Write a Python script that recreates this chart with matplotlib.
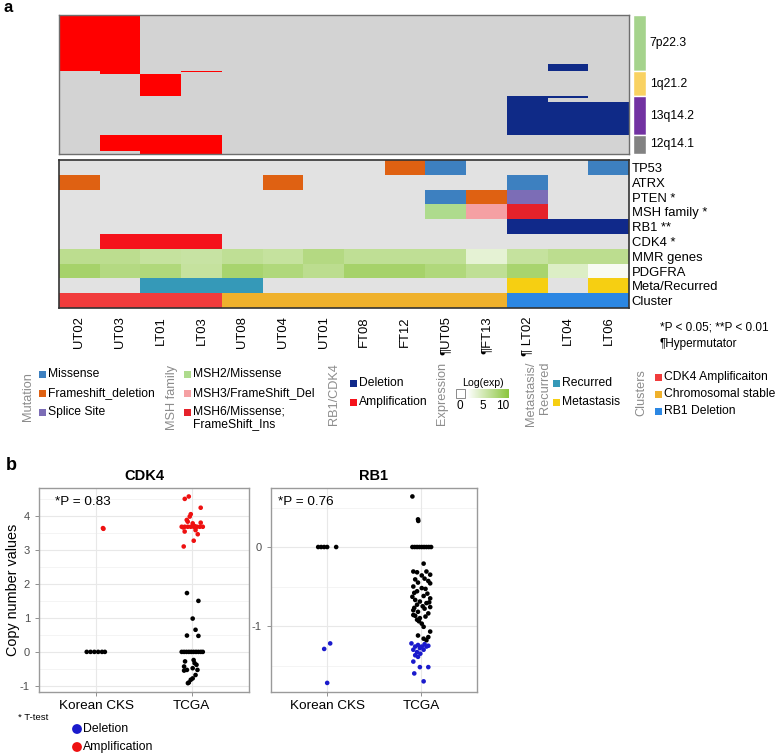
import numpy as np
import matplotlib
matplotlib.use('Agg')
import matplotlib.pyplot as plt
from matplotlib.colors import ListedColormap, LinearSegmentedColormap, to_rgb
from matplotlib.patches import Rectangle

plt.rcParams['font.family'] = ['Liberation Sans', 'DejaVu Sans']
plt.rcParams['axes.unicode_minus'] = False

# ---- data: panel a ----
samples = ['UT02', 'UT03', 'LT01', 'LT03', 'UT08', 'UT04', 'UT01',
           'FT08', 'FT12', 'UT05', 'FT13', 'LT02', 'LT04', 'LT06']
hypermutator = ['UT05', 'FT13', 'LT02']

bands = ['7p22.3', '1q21.2', '13q14.2', '12q14.1']
band_bins = [56, 25, 39, 19]          # genomic bins per band (top -> bottom)
band_colors = ['#a5d38c', '#f9d262', '#7232a2', '#828282']

# copy number segments: (sample, start bin, end bin, state)
cn_segments = [
    ('UT02', 0, 56, 'amp'), ('UT03', 0, 59, 'amp'), ('LT01', 59, 81, 'amp'),
    ('LT03', 56, 57, 'amp'), ('UT03', 120, 136, 'amp'), ('LT01', 120, 139, 'amp'),
    ('LT03', 120, 139, 'amp'), ('LT04', 49, 56, 'del'), ('LT02', 81, 120, 'del'),
    ('LT04', 81, 83, 'del'), ('LT04', 87, 120, 'del'), ('LT06', 87, 120, 'del'),
]

row_labels = ['TP53', 'ATRX', 'PTEN *', 'MSH family *', 'RB1 **', 'CDK4 *',
              'MMR genes', 'PDGFRA', 'Meta/Recurred', 'Cluster']
tp53 = {'FT12': 'Frameshift_deletion', 'UT05': 'Missense', 'LT06': 'Missense'}
atrx = {'UT02': 'Frameshift_deletion', 'UT04': 'Frameshift_deletion', 'LT02': 'Missense'}
pten = {'UT05': 'Missense', 'FT13': 'Frameshift_deletion', 'LT02': 'Splice Site'}
msh = {'UT05': 'MSH2/Missense', 'FT13': 'MSH3/FrameShift_Del',
       'LT02': 'MSH6/Missense;\nFrameShift_Ins'}
rb1 = {'LT02': 'Deletion', 'LT04': 'Deletion', 'LT06': 'Deletion'}
cdk4 = {'UT03': 'Amplification', 'LT01': 'Amplification', 'LT03': 'Amplification'}
mmr_exp = [5.8, 5.8, 5.0, 4.8, 5.5, 5.0, 6.5, 5.5, 5.5, 5.5, 2.2, 5.0, 5.8, 5.8]
pdgfra_exp = [7.7, 6.5, 6.8, 5.0, 7.5, 6.8, 5.8, 7.7, 7.7, 6.8, 5.5, 7.5, 3.0, 0.6]
meta = {'LT01': 'Recurred', 'LT03': 'Recurred', 'UT08': 'Recurred',
        'LT02': 'Metastasis', 'LT06': 'Metastasis'}
cluster = ['CDK4 Amplificaiton'] * 4 + ['Chromosomal stable'] * 7 + ['RB1 Deletion'] * 3

mutation_legend = ['Missense', 'Frameshift_deletion', 'Splice Site']
msh_legend = ['MSH2/Missense', 'MSH3/FrameShift_Del', 'MSH6/Missense;\nFrameShift_Ins']
rb1cdk4_legend = ['Deletion', 'Amplification']
meta_legend = ['Recurred', 'Metastasis']
cluster_legend = ['CDK4 Amplificaiton', 'Chromosomal stable', 'RB1 Deletion']

colors = {
    'Missense': '#3d80c0', 'Frameshift_deletion': '#df6112', 'Splice Site': '#7c6db6',
    'MSH2/Missense': '#aedb8d', 'MSH3/FrameShift_Del': '#f5a0a3',
    'MSH6/Missense;\nFrameShift_Ins': '#e5222a',
    'Deletion': '#10298a', 'Amplification': '#f5121b',
    'Recurred': '#3599b8', 'Metastasis': '#f6cf12',
    'CDK4 Amplificaiton': '#f13c3c', 'Chromosomal stable': '#efb12c', 'RB1 Deletion': '#2b87e3',
}
bg_gray = '#e2e2e2'
exp_cmap = LinearSegmentedColormap.from_list('exp', ['#ffffff', '#8cc63f'])

# ---- data: panel b ----
cdk4_kor_val = [0, 0, 0, 0, 0, 0, 3.64, 3.62]
cdk4_kor_off = [-0.10, -0.06, -0.02, 0.02, 0.06, 0.09, 0.07, 0.075]
cdk4_tcga_val = [4.50, 4.57, 4.24, 4.05, 3.98, 3.88, 3.83, 3.78, 3.80,
                 3.68, 3.68, 3.68, 3.68, 3.68, 3.68, 3.68, 3.68, 3.66, 3.70,
                 3.54, 3.58, 3.46, 3.27, 3.10,
                 1.73, 1.50, 0.98, 0.65, 0.48, 0.47,
                 0, 0, 0, 0, 0, 0, 0, 0, 0, 0,
                 -0.28, -0.24, -0.33, -0.43, -0.38, -0.53, -0.48, -0.53, -0.55,
                 -0.68, -0.78, -0.82, -0.90, -0.92]
cdk4_tcga_off = [-0.073, -0.031, 0.094, -0.010, -0.021, -0.052, -0.042, 0.010, 0.094,
                 -0.105, -0.074, -0.042, -0.011, 0.021, 0.053, 0.084, 0.116, -0.09, 0.03,
                 -0.074, 0.04, 0.063, 0.021, -0.084,
                 -0.05, 0.07, 0.01, 0.04, -0.05, 0.07,
                 -0.105, -0.08, -0.055, -0.03, -0.005, 0.02, 0.045, 0.07, 0.095, 0.116,
                 -0.07, 0.02, 0.03, -0.08, 0.05, -0.05, 0.01, 0.06, -0.08,
                 0.04, 0.01, -0.01, -0.03, -0.04]
rb1_kor_val = [0, 0, 0, 0, 0, -1.29, -1.22, -1.72]
rb1_kor_off = [-0.096, -0.064, -0.032, 0.0, 0.096, -0.032, 0.032, 0.0]
rb1_tcga_val = [0.64, 0.33, 0.35,
                0, 0, 0, 0, 0, 0, 0, 0, 0,
                -0.21, -0.31, -0.32, -0.31, -0.35, -0.36, -0.41, -0.40, -0.43, -0.45,
                -0.50, -0.52, -0.53, -0.56, -0.59, -0.63, -0.62, -0.65, -0.67, -0.69,
                -0.71, -0.73, -0.75, -0.76, -0.78, -0.80, -0.82, -0.84, -0.86, -0.87,
                -0.90, -0.92, -0.94, -0.97, -1.01, -1.07, -1.12, -1.14, -1.16, -1.18,
                -0.46, -0.58, -0.70, -0.88, -0.77,
                -1.22, -1.26, -1.24, -1.26, -1.23, -1.25, -1.30, -1.33, -1.28, -1.30,
                -1.26, -1.37, -1.35, -1.39, -1.45, -1.52, -1.60, -1.52, -1.70]
rb1_tcga_off = [-0.09, -0.027, -0.03,
                -0.09, -0.065, -0.04, -0.015, 0.01, 0.035, 0.06, 0.085, 0.11,
                0.03, -0.08, -0.04, 0.06, 0.10, 0.01, -0.06, 0.04, 0.08, -0.03,
                -0.08, 0.01, 0.05, -0.04, 0.07, -0.09, 0.03, 0.10, -0.06, -0.01,
                0.06, -0.04, 0.02, 0.10, 0.04, -0.08, -0.03, 0.08, -0.08, -0.06,
                -0.01, -0.04, -0.02, 0.01, 0.03, 0.10, -0.03, 0.08, 0.03, 0.06,
                0.10, -0.07, 0.09, 0.05, -0.07,
                -0.10, -0.06, -0.03, 0.01, 0.04, 0.08, -0.08, -0.04, -0.01, 0.03,
                0.06, -0.06, -0.005, -0.03, -0.08, -0.01, -0.07, 0.08, 0.03]
groups = ['Korean CKS', 'TCGA']

W, H = 778, 755
fig = plt.figure(figsize=(W / 100, H / 100), dpi=100)


def add_ax(x0, y0, x1, y1):
    # axes placed by pixel box (top-left origin)
    return fig.add_axes([x0 / W, 1 - y1 / H, (x1 - x0) / W, (y1 - y0) / H])


# ---- copy number heatmap ----
n_bins = sum(band_bins)
cn = np.zeros((n_bins, len(samples)))
for s, a, b, state in cn_segments:
    cn[a:b, samples.index(s)] = 1 if state == 'amp' else 2
ax_cn = add_ax(59, 15, 629, 154)
ax_cn.imshow(cn, cmap=ListedColormap(['#d3d3d3', '#ff0000', '#0f2a87']), vmin=0, vmax=2,
             aspect='auto', interpolation='nearest', extent=(-0.5, len(samples) - 0.5, n_bins, 0))
ax_cn.set_xticks([])
ax_cn.set_yticks([])
for sp in ax_cn.spines.values():
    sp.set_color('#6e6e6e')
    sp.set_linewidth(1)

ax_band = add_ax(633, 15, 646, 154)
starts = np.cumsum([0] + band_bins[:-1])
ax_band.bar(0, band_bins, bottom=starts, color=band_colors, width=1,
            edgecolor='white', linewidth=1)
ax_band.set_xlim(-0.5, 0.5)
ax_band.set_ylim(n_bins, 0)
ax_band.axis('off')
for name, st, n in zip(bands, starts, band_bins):
    ax_band.text(0.8, st + n / 2, name, ha='left', va='center', fontsize=8.7, clip_on=False)

# ---- mutation / annotation panel ----
cat_rows = [tp53, atrx, pten, msh, rb1, cdk4]
rgb = np.zeros((len(row_labels), len(samples), 3))
for i, s in enumerate(samples):
    for r, calls in enumerate(cat_rows):
        rgb[r, i] = to_rgb(colors[calls[s]]) if s in calls else to_rgb(bg_gray)
    rgb[6, i] = exp_cmap(mmr_exp[i] / 10)[:3]
    rgb[7, i] = exp_cmap(pdgfra_exp[i] / 10)[:3]
    rgb[8, i] = to_rgb(colors[meta[s]]) if s in meta else to_rgb(bg_gray)
    rgb[9, i] = to_rgb(colors[cluster[i]])

ax_mut = add_ax(59, 160, 629, 308)
ax_mut.imshow(rgb, aspect='auto', interpolation='nearest')
ax_mut.set_xticks(range(len(samples)))
ax_mut.set_xticklabels([('¶' + s if s != 'LT02' else '¶ ' + s) if s in hypermutator else s
                        for s in samples], rotation=90, fontsize=9.4)
ax_mut.yaxis.tick_right()
ax_mut.set_yticks(range(len(row_labels)))
ax_mut.set_yticklabels(row_labels, fontsize=9.4)
ax_mut.tick_params(length=0, pad=2)
ax_mut.tick_params(axis='x', pad=6)
for sp in ax_mut.spines.values():
    sp.set_color('#333333')
    sp.set_linewidth(1.2)

fig.text(660 / W, 1 - 328 / H, '*P < 0.05; **P < 0.01', fontsize=8.5, va='center')
fig.text(660 / W, 1 - 344 / H, '¶Hypermutator', fontsize=8.5, va='center')
fig.text(8 / W, 1 - 8 / H, 'a', fontsize=12, fontweight='bold', va='center', ha='center')
fig.text(11 / W, 1 - 466 / H, 'b', fontsize=13, fontweight='bold', va='center', ha='center')

# ---- legend (pixel overlay) ----
lg = fig.add_axes([0, 0, 1, 1])
lg.set_xlim(0, W)
lg.set_ylim(H, 0)
lg.axis('off')
gray_txt = '#8c8c8c'


def legend_block(label, lx, ly, sx, ys, items):
    lg.text(lx, ly, label, rotation=90, ha='center', va='center', fontsize=9.2,
            color=gray_txt, multialignment='right')
    for y, it in zip(ys, items):
        lg.add_patch(Rectangle((sx, y - 3.5), 7, 7, color=colors[it], lw=0))
        if '\n' in it:
            lg.text(sx + 9, y - 7, it, ha='left', va='top', fontsize=8.7, linespacing=1.15)
        else:
            lg.text(sx + 9, y, it, ha='left', va='center', fontsize=8.7)


legend_block('Mutation', 28, 397, 39, [374, 393, 412], mutation_legend)
legend_block('MSH family', 172, 397, 184, [374, 393, 412], msh_legend)
legend_block('RB1/CDK4', 334, 394, 350, [383, 402], rb1cdk4_legend)
legend_block('Metastasis/\nRecurred', 538, 394, 553, [383, 402], meta_legend)
legend_block('Clusters', 641, 393, 655, [377, 394, 411], cluster_legend)

lg.text(442, 393, 'Expression', rotation=90, ha='center', va='center', fontsize=9.2, color=gray_txt)
lg.text(483, 383, 'Log(exp)', ha='center', va='center', fontsize=7.6)
lg.add_patch(Rectangle((456, 389), 9, 9, facecolor='white', edgecolor='#777777', lw=0.6))
lg.imshow(np.linspace(0, 1, 50)[None, :], cmap=exp_cmap, vmin=0, vmax=1,
          extent=(467, 509, 398, 389), aspect='auto')
for v, x in zip([0, 5, 10], [460, 483, 503]):
    lg.text(x, 406, str(v), ha='center', va='center', fontsize=8.5)
lg.set_xlim(0, W)
lg.set_ylim(H, 0)


# ---- panel b scatter plots ----
def scatter_panel(ax, kor_val, kor_off, tcga_val, tcga_off, is_hit, hit_color,
                  ylim, yticks, minor, ptext, px):
    ax.set_facecolor('white')
    for v in minor:
        ax.axhline(v, color='#f3f3f3', lw=0.6, zorder=0)
    for v in yticks:
        ax.axhline(v, color='#e8e8e8', lw=0.8, zorder=0)
    for xc in [1, 2]:
        ax.axvline(xc, color='#e8e8e8', lw=0.8, zorder=0)
    for xc, vals, offs in [(1, kor_val, kor_off), (2, tcga_val, tcga_off)]:
        vals = np.array(vals)
        offs = np.array(offs)
        cols = [hit_color if is_hit(v) else 'black' for v in vals]
        ax.scatter(xc + offs, vals, s=11, c=cols, linewidths=0, zorder=3)
    ax.set_xlim(0.4, 2.6)
    ax.set_ylim(*ylim)
    ax.set_xticks([1, 2])
    ax.set_xticklabels(groups, fontsize=9.7)
    ax.set_yticks(yticks)
    ax.set_yticklabels([str(t) for t in yticks], fontsize=8, color='#4d4d4d')
    ax.tick_params(length=3, color='#7f7f7f', width=0.6)
    ax.tick_params(axis='x', pad=3)
    for sp in ax.spines.values():
        sp.set_color('#9a9a9a')
        sp.set_linewidth(1)
    ax.text(px, 0.93, ptext, transform=ax.transAxes, fontsize=9.7, va='center')


ax_c = add_ax(39, 488, 249, 692)
scatter_panel(ax_c, cdk4_kor_val, cdk4_kor_off, cdk4_tcga_val, cdk4_tcga_off,
              lambda v: v >= 3, '#ee1111', (-1.18, 4.82), [-1, 0, 1, 2, 3, 4],
              [-0.5, 0.5, 1.5, 2.5, 3.5, 4.5], '*P = 0.83', 0.075)
ax_c.set_ylabel('Copy number values', fontsize=10.4)
ax_c.yaxis.set_label_coords(-0.09, 0.5)
ax_c.set_title('CDK4', fontsize=10.5, fontweight='bold', pad=6)

ax_r = add_ax(271, 488, 477, 692)
scatter_panel(ax_r, rb1_kor_val, rb1_kor_off, rb1_tcga_val, rb1_tcga_off,
              lambda v: v <= -1.2, '#1a1acc', (-1.835, 0.747), [-1, 0],
              [-1.5, -0.5, 0.5], '*P = 0.76', 0.035)
ax_r.set_title('RB1', fontsize=10.5, fontweight='bold', pad=6)

# bottom legend
lg.text(18, 718, '* T-test', fontsize=6.8, va='center')
lg.scatter([77, 77], [729, 747], s=50, c=['#1a1acc', '#ee1111'], linewidths=0)
lg.text(83, 729, 'Deletion', fontsize=8.8, va='center')
lg.text(83, 747, 'Amplification', fontsize=8.8, va='center')
lg.set_xlim(0, W)
lg.set_ylim(H, 0)

fig.savefig('out.png', dpi=100)
